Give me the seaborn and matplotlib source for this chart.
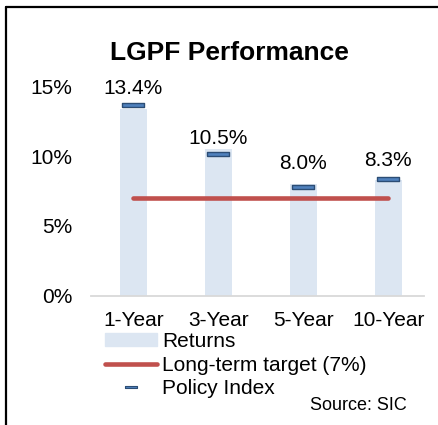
import matplotlib
matplotlib.use("Agg")
import matplotlib.pyplot as plt
import seaborn as sns
import numpy as np
from matplotlib.lines import Line2D
from matplotlib.patches import Patch

periods = ["1-Year", "3-Year", "5-Year", "10-Year"]
returns = [13.4, 10.5, 8.0, 8.3]
policy_index = [13.7, 10.2, 7.8, 8.4]
target = 7.0
y_ticks = [0, 5, 10, 15]

# label gaps above each bar (px), the Excel original had them nudged by hand
label_gap_px = [15, 5, 15, 14]

BAR_COLOR = "#DCE6F2"
LINE_COLOR = "#C0504D"
MARK_FILL = "#4F81BD"
MARK_EDGE = "#2C4D75"

sns.set_theme(style="white")
plt.rcParams["font.family"] = ["Liberation Sans", "DejaVu Sans"]
plt.rcParams["text.color"] = "black"

W, H = 438, 425
fig = plt.figure(figsize=(W / 100, H / 100), dpi=100)
ax = fig.add_axes([91 / W, (H - 295.5) / H, (424 - 91) / W, (295.5 - 86.7) / H])

x = np.arange(len(periods))
sns.barplot(x=x, y=returns, color=BAR_COLOR, width=0.32, saturation=1,
            edgecolor=BAR_COLOR, linewidth=0, ax=ax, zorder=1)
sns.lineplot(x=[x[0], x[-1]], y=[target, target], color=LINE_COLOR, linewidth=3.3,
             solid_capstyle="round", ax=ax, zorder=3)

dash = [(-1, -0.2), (1, -0.2), (1, 0.2), (-1, 0.2), (-1, -0.2)]
sns.scatterplot(x=x, y=policy_index, marker=dash, s=255, color=MARK_FILL,
                edgecolor=MARK_EDGE, linewidth=1.0, ax=ax, zorder=4, clip_on=False)

for i, v in enumerate(returns):
    ax.annotate(f"{v:.1f}%", (i, v), xytext=(0, label_gap_px[i] * 0.72),
                textcoords="offset points", ha="center", va="baseline",
                fontsize=15, color="black", annotation_clip=False)

ax.set_xlim(-0.5, 3.42)
ax.set_ylim(0, 15)
ax.set_yticks(y_ticks)
ax.set_yticklabels([f"{t}%" for t in y_ticks])
ax.set_xticks(x)
ax.set_xticklabels(periods)
ax.tick_params(axis="y", length=0, pad=13.5, labelsize=15, colors="black")
ax.tick_params(axis="x", length=0, pad=11, labelsize=15, colors="black")
ax.set_xlabel("")
ax.set_ylabel("")
for side in ["left", "right", "top"]:
    ax.spines[side].set_visible(False)
ax.spines["bottom"].set_color("#D9D9D9")
ax.spines["bottom"].set_linewidth(1.3)
ax.grid(False)

fig.text(229 / W, 1 - 53 / H, "LGPF Performance", ha="center", va="center",
         fontsize=19, fontweight="bold", color="black")

handles = [
    Patch(facecolor=BAR_COLOR, edgecolor=BAR_COLOR),
    Line2D([], [], color=LINE_COLOR, linewidth=3.3, solid_capstyle="round"),
    Line2D([], [], marker=dash, linestyle="none", markersize=8.5,
           markerfacecolor=MARK_FILL, markeredgecolor=MARK_EDGE, markeredgewidth=0.8),
]
labels = ["Returns", "Long-term target (7%)", "Policy Index"]
leg = fig.legend(handles, labels, loc="upper left", bbox_to_anchor=(105 / W, 1 - 332 / H),
                 frameon=False, fontsize=15, handlelength=2.5, handleheight=0.55,
                 handletextpad=0.25, labelspacing=0.22, borderpad=0, borderaxespad=0)
for t in leg.get_texts():
    t.set_color("black")

fig.text(407 / W, 1 - 405 / H, "Source: SIC", ha="right", va="center", fontsize=13,
         color="black")

# frame of the original slide box (left and top edges visible)
fig.add_artist(Line2D([6 / W, 6 / W], [0, 1 - 7 / H], color="black", linewidth=1.6,
                      transform=fig.transFigure))
fig.add_artist(Line2D([6 / W, 1], [1 - 7 / H, 1 - 7 / H], color="black", linewidth=1.6,
                      transform=fig.transFigure))

fig.savefig("out.png", dpi=100, facecolor="white")
